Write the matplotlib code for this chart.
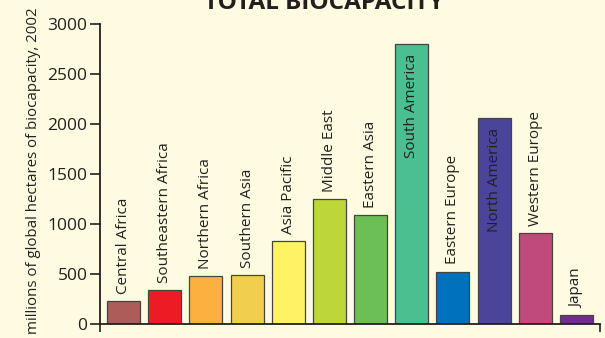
import matplotlib.pyplot as plt

regions = ['Central Africa', 'Southeastern Africa', 'Northern Africa', 'Southern Asia',
           'Asia Pacific', 'Middle East', 'Eastern Asia', 'South America', 'Eastern Europe',
           'North America', 'Western Europe', 'Japan']
biocapacity = [235, 340, 483, 490, 835, 1255, 1092, 2805, 525, 2060, 915, 93]
colors = ['#AD5C5A', '#ED1C24', '#FBB040', '#F1CE4E', '#FFF265', '#BDD63A',
          '#6CBF57', '#4BBF8F', '#0071BC', '#48459B', '#C04B7B', '#772A8E']
yticks = [0, 500, 1000, 1500, 2000, 2500, 3000]

plt.rcParams['font.family'] = ['Open Sans', 'DejaVu Sans']
bg = '#FEFBE1'

fig = plt.figure(figsize=(6.05, 3.38), dpi=100, facecolor=bg)
ax = fig.add_axes([100/605, 14/338, 500/605, 300/338], facecolor=bg)

x = range(len(regions))
bars = ax.bar(x, biocapacity, width=0.8, color=colors, edgecolor='#444444', linewidth=0.9)

for xi, v, name in zip(x, biocapacity, regions):
    if v > 2000:
        ax.annotate(name, (xi, v), xytext=(0, -10), textcoords='offset pixels',
                    rotation=90, ha='center', va='top', fontsize=11, color='#231F20')
    else:
        ax.annotate(name, (xi, v), xytext=(0, 7), textcoords='offset pixels',
                    rotation=90, ha='center', va='bottom', fontsize=11, color='#231F20')

ax.set_xlim(-0.57, len(regions) - 0.43)
ax.set_ylim(0, 3000)
ax.set_yticks(yticks)
ax.set_xticks([-0.57, len(regions) - 0.43])
ax.set_xticklabels(['', ''])
ax.tick_params(axis='y', length=7, width=1.2, labelsize=12.5, colors='#231F20', pad=2)
ax.tick_params(axis='x', length=6, width=1.2, colors='#231F20')
for s in ['top', 'right']:
    ax.spines[s].set_visible(False)
for s in ['left', 'bottom']:
    ax.spines[s].set_linewidth(1.3)
    ax.spines[s].set_color('#231F20')

ax.set_ylabel('millions of global hectares of biocapacity, 2002', fontsize=10.8,
              color='#231F20')
ax.yaxis.set_label_coords(-0.118, 0.51)

fig.text(0.535, 1 - 9/338, 'TOTAL BIOCAPACITY', ha='center', va='baseline',
         fontsize=17.5, fontweight='bold', color='#231F20')

fig.savefig('out.png', dpi=100, facecolor=bg)
